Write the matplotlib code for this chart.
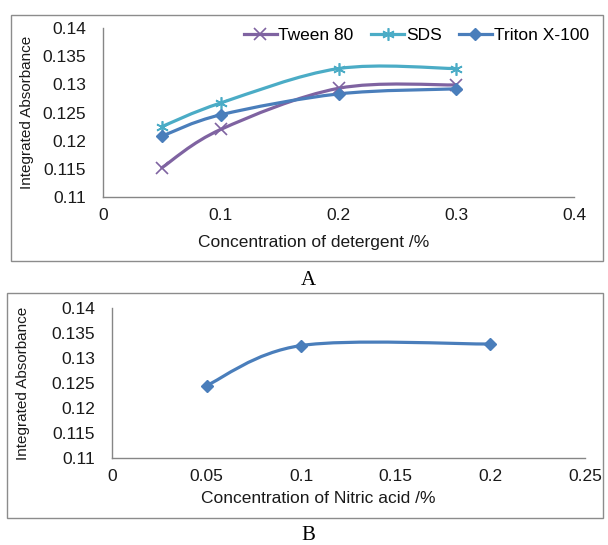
import matplotlib
matplotlib.use('Agg')
import matplotlib.pyplot as plt
from matplotlib.path import Path
from matplotlib.patches import PathPatch, Rectangle
from matplotlib.lines import Line2D

plt.rcParams['font.family'] = ['Liberation Sans', 'DejaVu Sans']

# ---- dados ----
conc_detergent = [0.05, 0.1, 0.2, 0.3]
tween80 = [0.1152, 0.1220, 0.1293, 0.1299]
sds = [0.1225, 0.1267, 0.1328, 0.1328]
triton = [0.1208, 0.1246, 0.1283, 0.1292]

conc_nitric = [0.05, 0.1, 0.2]
nitric_abs = [0.1245, 0.1325, 0.1328]

y_ticks = [0.11, 0.115, 0.12, 0.125, 0.13, 0.135, 0.14]
y_labels = ['0.11', '0.115', '0.12', '0.125', '0.13', '0.135', '0.14']
xa_ticks = [0, 0.1, 0.2, 0.3, 0.4]
xa_labels = ['0', '0.1', '0.2', '0.3', '0.4']
xb_ticks = [0, 0.05, 0.1, 0.15, 0.2, 0.25]
xb_labels = ['0', '0.05', '0.1', '0.15', '0.2', '0.25']

PURPLE = '#7f63a1'
AQUA = '#4bacc6'
BLUE = '#4a7ebb'
AXIS = '#868686'
FS = 12.5


def smooth_curve(ax, x, y, color):
    # linha suavizada (Bezier tipo Catmull-Rom, como no Excel)
    pts = list(zip(x, y))
    n = len(pts)
    verts = [pts[0]]
    codes = [Path.MOVETO]
    for i in range(n - 1):
        p0 = pts[i - 1] if i > 0 else pts[i]
        p1 = pts[i]
        p2 = pts[i + 1]
        p3 = pts[i + 2] if i + 2 < n else pts[i + 1]
        c1 = (p1[0] + (p2[0] - p0[0]) / 6, p1[1] + (p2[1] - p0[1]) / 6)
        c2 = (p2[0] - (p3[0] - p1[0]) / 6, p2[1] - (p3[1] - p1[1]) / 6)
        verts += [c1, c2, p2]
        codes += [Path.CURVE4] * 3
    patch = PathPatch(Path(verts, codes), facecolor='none', edgecolor=color,
                      lw=2.3, capstyle='round', zorder=2)
    ax.add_patch(patch)


def style_axes(ax, xticks, xlabels):
    ax.set_ylim(0.11, 0.14)
    ax.set_yticks(y_ticks)
    ax.set_yticklabels(y_labels)
    ax.set_xlim(xticks[0], xticks[-1])
    ax.set_xticks(xticks)
    ax.set_xticklabels(xlabels)
    for s in ['top', 'right']:
        ax.spines[s].set_visible(False)
    for s in ['left', 'bottom']:
        ax.spines[s].set_color(AXIS)
        ax.spines[s].set_linewidth(1)
    ax.tick_params(length=0, labelsize=FS, colors='#1a1a1a')
    ax.tick_params(axis='y', pad=12)
    ax.tick_params(axis='x', pad=8)
    ax.patch.set_alpha(0)


fig = plt.figure(figsize=(6.08, 5.45), dpi=100)

# bordas das areas de grafico
fig.patches.append(Rectangle((0.018, 0.521), 0.974, 0.451, transform=fig.transFigure,
                             facecolor='none', edgecolor='#8c8c8c', lw=1))
fig.patches.append(Rectangle((0.012, 0.0495), 0.980, 0.413, transform=fig.transFigure,
                             facecolor='none', edgecolor='#8c8c8c', lw=1))

# ============= Grafico A =============
ax1 = fig.add_axes([0.1694, 0.6385, 0.7747, 0.3101])
style_axes(ax1, xa_ticks, xa_labels)
smooth_curve(ax1, conc_detergent, tween80, PURPLE)
smooth_curve(ax1, conc_detergent, sds, AQUA)
smooth_curve(ax1, conc_detergent, triton, BLUE)
ax1.plot(conc_detergent, tween80, ls='none', marker='x', ms=8, mew=1.2, color=PURPLE, zorder=3)
ax1.plot(conc_detergent, sds, ls='none', marker=(6, 2, 0), ms=9, mew=1.2, color=AQUA, zorder=3)
ax1.plot(conc_detergent, triton, ls='none', marker='D', ms=6, color=BLUE, zorder=3)
ax1.set_xlabel('Concentration of detergent /%', fontsize=FS, color='#1a1a1a')
ax1.xaxis.set_label_coords(0.448, -0.272)
ax1.xaxis.label.set_va('center')
ax1.set_ylabel('Integrated Absorbance', fontsize=11, color='#1a1a1a')
ax1.yaxis.set_label_coords(-0.161, 0.5)
ax1.yaxis.label.set_va('center')

handles = [
    Line2D([], [], color=PURPLE, lw=2.3, marker='x', ms=8, mew=1.2),
    Line2D([], [], color=AQUA, lw=2.3, marker=(6, 2, 0), ms=9, mew=1.2),
    Line2D([], [], color=BLUE, lw=2.3, marker='D', ms=6),
]
ax1.legend(handles, ['Tween 80', 'SDS', 'Triton X-100'], loc='center',
           bbox_to_anchor=(0.665, 0.955), ncol=3, frameon=False, fontsize=FS,
           handlelength=1.9, handletextpad=0.1, columnspacing=1.0,
           borderpad=0, borderaxespad=0)

# ============= Grafico B =============
ax2 = fig.add_axes([0.1842, 0.1596, 0.778, 0.2752])
style_axes(ax2, xb_ticks, xb_labels)
smooth_curve(ax2, conc_nitric, nitric_abs, BLUE)
ax2.plot(conc_nitric, nitric_abs, ls='none', marker='D', ms=6, color=BLUE, zorder=3)
ax2.set_xlabel('Concentration of Nitric acid /%', fontsize=FS, color='#1a1a1a')
ax2.xaxis.set_label_coords(0.435, -0.267)
ax2.xaxis.label.set_va('center')
ax2.set_ylabel('Integrated Absorbance', fontsize=11, color='#1a1a1a')
ax2.yaxis.set_label_coords(-0.188, 0.5)
ax2.yaxis.label.set_va('center')

# letras A e B
fig.text(0.507, 0.486, 'A', ha='center', va='center', fontsize=15, family='Liberation Serif')
fig.text(0.507, 0.018, 'B', ha='center', va='center', fontsize=15, family='Liberation Serif')

fig.savefig('out.png', dpi=100)
